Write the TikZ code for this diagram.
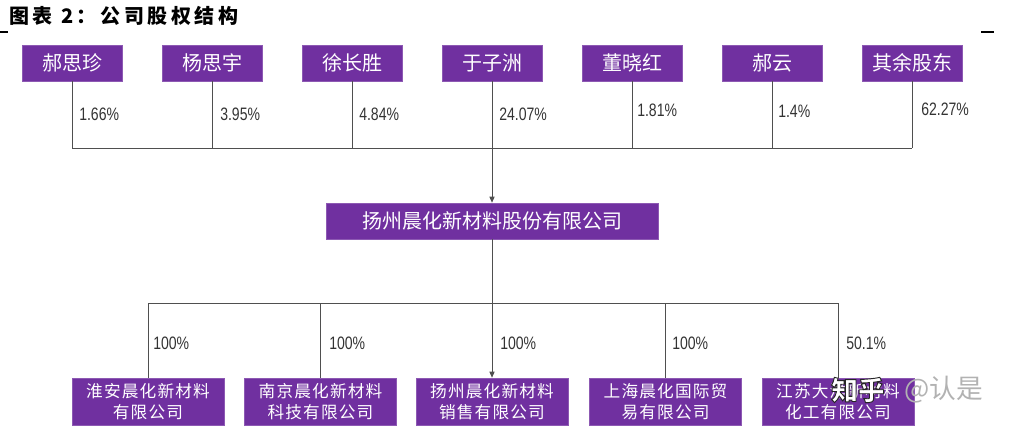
\documentclass[tikz,border=0pt]{standalone}
\usepackage{fontspec}
\newfontfamily\cjk{Noto Sans CJK SC}
\newfontfamily\cjktitle[LetterSpace=18]{Noto Sans CJK SC}
\newfontfamily\cjkwide[LetterSpace=7]{Noto Sans CJK SC}
\newfontfamily\narrow[FakeStretch=0.78]{Liberation Sans}
\usetikzlibrary{arrows.meta}
\definecolor{boxpurple}{HTML}{7030A0}
\definecolor{linegray}{HTML}{4F4F4F}
\definecolor{pcttext}{HTML}{333333}
\begin{document}
\begin{tikzpicture}[x=0.75pt,y=-0.75pt,
  pbox/.style={fill=boxpurple,draw=boxpurple!80!white,line width=0.4pt,text=white,inner sep=0pt,align=center,font=\cjk},
  topbox/.style={pbox,minimum width=75pt,minimum height=27pt,font=\cjk\fontsize{15}{17}\selectfont},
  midbox/.style={pbox,minimum width=249pt,minimum height=27pt,font=\cjk\fontsize{15}{17}\selectfont},
  botbox/.style={pbox,minimum width=114pt,minimum height=35.25pt,font=\cjkwide\fontsize{12.5}{15.5}\selectfont},
  conn/.style={draw=linegray,line width=0.75pt},
  arr/.style={conn,-{Triangle[length=4.5pt,width=3.8pt]},shorten >=0pt},
  pct/.style={anchor=west,inner sep=0pt,text=pcttext,font=\narrow\fontsize{13.5}{15}\selectfont}]
\useasboundingbox (0,0) rectangle (1017,433);

% title
\node[anchor=west,inner sep=0pt,font=\cjktitle\bfseries\fontsize{15}{17}\selectfont] (title) at (9,16) {图表 2：公司股权结构};
\draw[line width=1.5pt] (0,31.5) -- (8,31.5);
\draw[line width=1.5pt] (981,31.5) -- (994,31.5);

% shareholders
\node[topbox] (a1) at (72,63) {郝思珍};
\node[topbox] (a2) at (212,63) {杨思宇};
\node[topbox] (a3) at (352,63) {徐长胜};
\node[topbox] (a4) at (492,63) {于子洲};
\node[topbox] (a5) at (632,63) {董晓红};
\node[topbox] (a6) at (772,63) {郝云};
\node[topbox] (a7) at (912,63) {其余股东};

\coordinate (topbus) at (0,148);
\foreach \n in {a1,a2,a3,a5,a6,a7}{
  \draw[conn] (\n.south) -- (\n.south |- topbus);
}
\draw[conn] (a1.south |- topbus) -- (a7.south |- topbus);

% company
\node[midbox] (mid) at (492,221) {扬州晨化新材料股份有限公司};
\draw[arr] (a4.south) -- (mid.north);

% percentages top
\node[pct] (p1) at (79,114) {1.66\%};
\node[pct] (p2) at (220,114) {3.95\%};
\node[pct] (p3) at (359,114) {4.84\%};
\node[pct] (p4) at (499,114) {24.07\%};
\node[pct] (p5) at (637,110) {1.81\%};
\node[pct] (p6) at (778,111) {1.4\%};
\node[pct] (p7) at (921,109) {62.27\%};

% subsidiaries
\node[botbox] (b1) at (148,401.5) {淮安晨化新材料\\有限公司};
\node[botbox] (b2) at (320.5,401.5) {南京晨化新材料\\科技有限公司};
\node[botbox] (b3) at (492,401.5) {扬州晨化新材料\\销售有限公司};
\node[botbox] (b4) at (665.5,401.5) {上海晨化国际贸\\易有限公司};
\node[botbox] (b5) at (838,401.5) {江苏大洋新材料\\化工有限公司};

\coordinate (botbus) at (0,303);
\draw[arr] (mid.south) -- (b3.north);
\draw[conn] (b1.north |- botbus) -- (b5.north |- botbus);
\foreach \n in {b1,b2,b4,b5}{
  \draw[conn] (\n.north |- botbus) -- (\n.north);
}

% percentages bottom
\node[pct] (q1) at (153,343) {100\%};
\node[pct] (q2) at (329,343) {100\%};
\node[pct] (q3) at (500,343) {100\%};
\node[pct] (q4) at (672,343) {100\%};
\node[pct] (q5) at (846,343) {50.1\%};

% watermark
\node[anchor=west,inner sep=0pt,text=white,font=\cjk\bfseries\fontsize{20}{22}\selectfont] (wm1) at (831,390)
  {\special{pdf:literal direct 2 Tr 0.7 w 0.15 G}知乎\special{pdf:literal direct 0 Tr}};
\node[anchor=west,inner sep=0pt,text=black!30,font=\cjk\fontsize{20}{22}\selectfont] (wm2) at (904,390) {@认是};
\end{tikzpicture}
\end{document}
